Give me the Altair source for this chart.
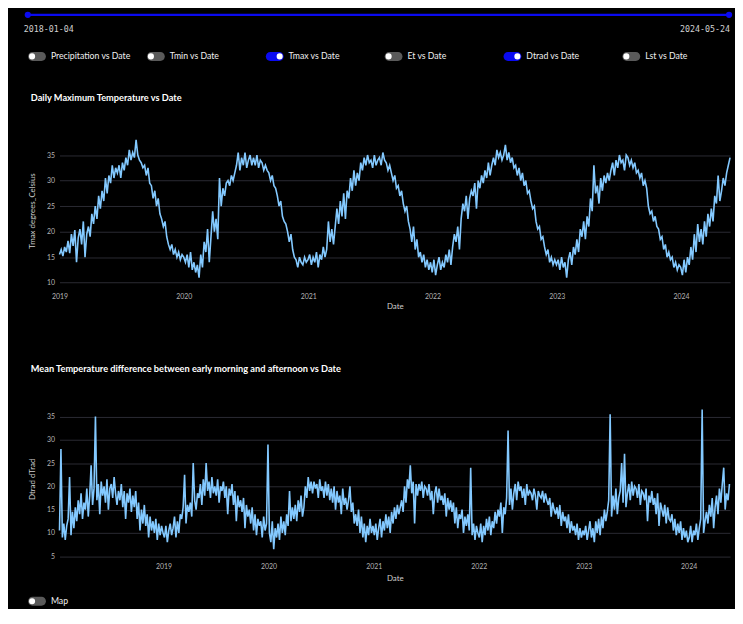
import altair as alt
import pandas as pd

# ---------------- data ----------------
slider_dates = ["2018-01-04", "2024-05-24"]
toggle_labels = ["Precipitation vs Date", "Tmin vs Date", "Tmax vs Date",
                 "Et vs Date", "Dtrad vs Date", "Lst vs Date"]
toggle_on = [False, False, True, False, True, False]
map_label = ["Map"]
map_on = [False]

title_tmax = "Daily Maximum Temperature vs Date"
title_dtrad = "Mean Temperature difference between early morning and afternoon vs Date"

# Tmax, one reading every 5 days from 2019-01-01
tmax_start = "2019-01-01"
tmax_2019 = [15.5, 16.5, 15.2, 17.0, 16.0, 18.2, 15.8, 19.5, 17.2, 20.3, 14.0, 18.8,
             20.5, 17.5, 22.0, 15.0, 19.5, 21.0, 19.0, 23.5, 21.5, 25.0, 22.5, 27.0,
             24.5, 28.0, 26.0, 30.5, 27.5, 31.0, 29.5, 33.0, 30.5, 32.5, 31.5, 33.0,
             30.5, 33.5, 32.0, 34.5, 33.0, 36.0, 34.0, 35.5, 34.5, 38.0, 35.0, 34.0,
             33.5, 32.5, 33.0, 31.0, 32.5, 29.5, 29.0, 26.5, 28.0, 25.0, 26.5, 23.5,
             22.5, 21.0, 22.0, 19.0, 17.5, 16.5, 17.5, 15.5, 16.5, 15.0, 16.0, 14.5, 15.5]
tmax_2020 = [15.0, 14.0, 15.5, 13.0, 16.0, 12.5, 14.0, 12.0, 13.5, 11.0, 15.5, 13.0,
             18.0, 16.0, 20.5, 14.0, 19.0, 24.0, 20.0, 22.5, 18.5, 30.5, 25.0, 28.5,
             27.0, 29.5, 30.0, 29.0, 31.0, 30.0, 31.5, 33.0, 35.5, 32.0, 34.5, 33.0,
             35.5, 32.5, 34.0, 35.0, 33.0, 34.5, 33.0, 35.0, 32.5, 34.0, 33.5, 32.0,
             33.0, 32.0, 31.5, 30.0, 31.0, 29.0, 28.5, 27.0, 25.0, 26.0, 23.0, 22.0,
             21.5, 20.0, 18.0, 19.5, 16.5, 15.0, 14.5, 13.0, 15.0, 14.0, 13.5, 15.0, 14.0]
tmax_2021 = [14.5, 15.5, 13.5, 15.0, 14.0, 16.0, 13.0, 15.5, 14.5, 17.0, 15.0, 16.5,
             22.0, 18.0, 20.5, 17.5, 21.0, 24.5, 21.5, 26.0, 23.0, 27.5, 22.5, 28.0,
             26.5, 30.5, 28.0, 32.0, 29.0, 31.5, 30.0, 33.5, 32.0, 34.5, 33.0, 35.0,
             33.5, 34.0, 32.5, 35.0, 33.0, 34.0, 34.5, 33.0, 35.5, 34.0, 33.5, 32.0,
             33.0, 31.5, 30.0, 31.0, 28.5, 29.0, 27.0, 28.0, 25.5, 24.0, 25.0, 22.0,
             20.5, 18.0, 21.0, 16.5, 18.5, 15.0, 16.0, 14.0, 15.5, 13.0, 14.5, 12.5, 14.0]
tmax_2022 = [12.0, 14.5, 11.5, 13.5, 15.0, 12.5, 14.0, 13.0, 15.5, 14.0, 16.5, 13.5,
             17.0, 19.5, 18.0, 21.0, 16.5, 22.5, 25.5, 24.0, 27.0, 22.5, 26.5, 28.0,
             27.0, 29.5, 24.5, 30.0, 28.5, 31.0, 29.5, 32.0, 30.5, 33.5, 31.0, 33.0,
             34.5, 33.0, 36.0, 34.5, 35.5, 34.0, 35.0, 37.0, 34.0, 35.5, 33.5, 34.5,
             32.5, 33.0, 31.0, 32.5, 30.0, 31.5, 29.0, 30.0, 27.5, 28.0, 26.0, 24.5,
             25.0, 22.0, 20.5, 21.0, 18.5, 19.0, 17.0, 15.5, 16.5, 14.0, 15.0, 13.5, 14.5]
tmax_2023 = [13.5, 14.5, 12.5, 15.0, 13.0, 14.0, 11.0, 14.5, 16.0, 13.5, 17.0, 15.5,
             18.5, 16.0, 20.5, 19.0, 22.0, 18.5, 23.0, 21.0, 26.5, 24.0, 33.0, 27.5,
             29.0, 25.5, 30.5, 28.0, 31.0, 29.5, 31.5, 30.0, 32.0, 33.5, 31.0, 34.0,
             32.5, 35.0, 33.5, 34.0, 32.0, 35.0, 34.5, 33.0, 34.0, 32.5, 33.5, 31.5,
             32.0, 30.5, 31.5, 29.0, 30.0, 28.5, 25.0, 23.5, 24.0, 22.0, 23.0, 21.0,
             20.5, 18.5, 19.0, 16.5, 17.5, 15.0, 16.0, 14.5, 15.0, 13.0, 14.0, 12.5, 13.5]
tmax_2024 = [13.0, 11.5, 14.5, 12.0, 15.0, 13.5, 17.0, 14.5, 19.5, 16.0, 21.5, 18.0,
             20.5, 17.5, 22.0, 19.0, 23.5, 21.0, 24.5, 22.0, 27.0, 25.5, 31.0, 26.0,
             28.0, 30.5, 29.0, 31.5, 33.0, 34.5]

# Dtrad, one reading every 5 days from 2018-01-04
dtrad_start = "2018-01-04"
dtrad_2018 = [10.5, 28.0, 9.0, 12.0, 8.5, 11.5, 13.0, 22.0, 9.5, 14.5, 11.0, 15.5,
              12.5, 17.0, 14.0, 18.5, 13.0, 16.5, 15.0, 19.5, 13.5, 18.0, 24.5, 16.0,
              19.5, 35.0, 17.0, 20.5, 14.0, 21.0, 18.0, 20.0, 16.5, 21.5, 15.0, 19.5,
              20.5, 17.5, 22.0, 18.5, 16.0, 19.0, 17.0, 20.5, 15.5, 19.0, 13.0, 18.5,
              16.5, 19.5, 14.5, 18.0, 15.5, 19.0, 13.0, 16.5, 10.5, 15.0, 12.0, 16.0,
              11.5, 14.0, 9.0, 13.5, 10.5, 12.5, 10.0, 13.0, 8.5, 12.0, 9.5, 11.5, 10.0]
dtrad_2019 = [9.0, 11.5, 8.0, 10.5, 12.0, 9.5, 11.0, 13.5, 9.0, 12.5, 10.0, 14.0,
              13.0, 15.5, 22.5, 12.0, 16.0, 14.5, 16.5, 13.5, 25.0, 17.0, 15.0, 18.5,
              17.5, 20.5, 16.0, 21.5, 18.0, 25.0, 19.0, 21.0, 17.5, 22.0, 18.5, 20.0,
              18.0, 21.5, 16.5, 20.0, 19.0, 21.0, 17.5, 20.0, 14.0, 19.5, 18.0, 20.5,
              16.0, 19.0, 12.5, 18.0, 15.5, 17.0, 14.5, 17.5, 11.0, 16.0, 13.5, 15.0,
              12.0, 15.5, 10.5, 14.0, 9.5, 13.0, 11.5, 12.5, 9.0, 13.5, 10.5, 12.0, 29.0]
dtrad_2020 = [10.0, 8.0, 12.5, 6.5, 11.0, 9.0, 12.0, 8.5, 13.5, 10.0, 12.5, 9.5,
              14.0, 11.5, 19.0, 12.5, 15.5, 13.0, 16.0, 12.5, 17.0, 14.5, 18.0, 13.5,
              15.5, 20.0, 17.5, 22.0, 19.0, 21.0, 18.5, 21.0, 19.5, 20.5, 17.5, 21.5,
              19.0, 20.0, 17.5, 21.0, 18.0, 20.5, 17.0, 19.5, 16.5, 20.0, 15.0, 19.0,
              16.5, 18.0, 14.0, 19.5, 16.0, 17.5, 15.0, 17.0, 20.0, 14.5, 16.5, 12.0,
              14.0, 11.5, 15.0, 10.0, 13.5, 9.0, 12.0, 8.0, 11.5, 9.5, 13.0, 10.0, 11.5]
dtrad_2021 = [9.5, 12.0, 8.5, 11.0, 13.0, 9.0, 12.5, 10.5, 14.0, 11.0, 13.5, 10.0,
              14.5, 12.0, 15.5, 13.0, 16.0, 14.0, 15.5, 17.0, 14.5, 20.0, 16.5, 21.5,
              19.5, 24.5, 18.5, 21.0, 12.0, 20.5, 18.0, 20.5, 19.0, 21.0, 17.5, 20.0,
              19.5, 18.0, 20.5, 17.0, 19.0, 14.0, 18.5, 20.0, 16.5, 19.5, 17.0, 18.0,
              16.0, 18.5, 13.5, 17.5, 15.0, 17.0, 14.5, 16.5, 12.0, 15.5, 11.0, 14.0,
              13.0, 15.0, 10.0, 13.5, 11.5, 14.0, 10.5, 24.0, 9.5, 12.0, 8.5, 11.5, 10.0]
dtrad_2022 = [9.0, 12.0, 8.0, 11.5, 9.5, 13.0, 10.5, 13.5, 9.5, 12.5, 11.0, 14.5,
              12.0, 15.0, 13.5, 16.5, 10.0, 15.5, 14.0, 17.5, 32.0, 16.0, 19.5, 15.0,
              18.5, 20.5, 17.0, 21.0, 19.0, 20.0, 17.5, 19.5, 16.0, 20.5, 18.0, 19.0,
              18.5, 17.0, 19.5, 18.0, 15.0, 19.0, 18.0, 17.5, 19.0, 16.5, 18.5, 17.0,
              16.0, 17.5, 13.5, 16.5, 15.0, 14.0, 15.5, 13.0, 16.0, 11.5, 14.5, 12.5,
              13.5, 11.0, 14.0, 10.0, 12.5, 10.5, 11.5, 9.5, 12.0, 8.5, 11.0, 9.0, 10.5]
dtrad_2023 = [9.5, 11.5, 8.5, 10.5, 12.5, 9.0, 11.0, 8.0, 12.5, 10.0, 13.0, 9.5,
              13.5, 11.0, 15.0, 12.5, 14.5, 17.0, 35.5, 13.5, 18.0, 15.0, 19.5, 14.0,
              17.5, 19.0, 25.0, 16.5, 27.0, 15.5, 18.5, 20.5, 17.0, 21.0, 18.0, 20.0,
              19.5, 17.5, 20.5, 16.0, 19.0, 18.5, 17.0, 19.5, 12.5, 18.0, 16.5, 19.0,
              16.0, 17.5, 14.0, 18.5, 11.5, 16.5, 15.0, 13.5, 16.0, 12.0, 15.5, 13.0,
              12.5, 14.0, 10.5, 13.0, 9.5, 12.0, 10.0, 12.5, 8.5, 11.0, 9.0, 10.5, 8.0]
dtrad_2024 = [9.0, 11.5, 8.0, 10.5, 9.5, 12.0, 8.5, 11.0, 13.0, 36.5, 10.0, 12.5,
              14.5, 12.0, 16.0, 13.5, 17.5, 11.0, 15.5, 18.0, 14.0, 19.5, 16.5, 20.5,
              24.0, 15.0, 18.5, 17.0, 20.5]

tmax_values = tmax_2019 + tmax_2020 + tmax_2021 + tmax_2022 + tmax_2023 + tmax_2024
dtrad_values = dtrad_2018 + dtrad_2019 + dtrad_2020 + dtrad_2021 + dtrad_2022 + dtrad_2023 + dtrad_2024

tmax_df = pd.DataFrame({"Date": pd.date_range(tmax_start, periods=len(tmax_values), freq="5D"),
                        "Tmax": tmax_values})
dtrad_df = pd.DataFrame({"Date": pd.date_range(dtrad_start, periods=len(dtrad_values), freq="5D"),
                         "Dtrad": dtrad_values})
toggle_df = pd.DataFrame({"idx": list(range(len(toggle_labels))), "label": toggle_labels, "on": toggle_on})
map_df = pd.DataFrame({"idx": [0], "label": map_label, "on": map_on})
slider_df = pd.DataFrame({"start": [slider_dates[0]], "end": [slider_dates[1]]})
slider_pts = pd.DataFrame({"d": slider_dates, "label": slider_dates})

# ---------------- styling ----------------
BG = "#000000"
LINE = "#83c9ff"
BLUE = "#0a0af0"
FONT = "Lato"
W = 677
HA = 149
HB = 157
PILL = "M-0.5,-0.5 L0.5,-0.5 A0.5,0.5 0 0 1 0.5,0.5 L-0.5,0.5 A0.5,0.5 0 0 1 -0.5,-0.5 Z"

def dt(s):
    y, m, d = [int(v) for v in s.split("-")]
    return alt.DateTime(year=y, month=m, date=d)

year_ticks = [alt.DateTime(year=y, month=1, date=1) for y in range(2019, 2025)]
toggle_scale = alt.Scale(domain=[0, 5], range=[-8.7, 591.3])
slider_scale = alt.Scale(domain=[dt(slider_dates[0]), dt(slider_dates[1])], range=[-32, 676])


def toggles(df, ypix):
    base = alt.Chart(df)
    xenc = alt.X("idx:Q", scale=toggle_scale, axis=None)
    track = base.mark_point(shape=PILL, size=324, filled=True, opacity=1, strokeWidth=0,
                            xOffset=-14).encode(
        x=xenc, y=alt.value(ypix),
        fill=alt.condition("datum.on", alt.value(BLUE), alt.value("#5a5a5a")))
    knob_on = base.transform_filter("datum.on").mark_point(
        shape="circle", size=38, filled=True, opacity=1, color="#ffffff", xOffset=-9
    ).encode(x=xenc, y=alt.value(ypix))
    knob_off = base.transform_filter("!datum.on").mark_point(
        shape="circle", size=38, filled=True, opacity=1, color="#ffffff", xOffset=-19
    ).encode(x=xenc, y=alt.value(ypix))
    text = base.mark_text(align="left", baseline="middle", font=FONT, fontSize=8.8,
                          color="#f0f0f0").encode(x=xenc, y=alt.value(ypix), text="label:N")
    return [track, knob_on, knob_off, text]


# ---------------- chart A: Tmax ----------------
lineA = alt.Chart(tmax_df).mark_line(color=LINE, strokeWidth=1.6).encode(
    x=alt.X("Date:T", title="Date",
            scale=alt.Scale(domain=[dt("2019-01-01"), dt("2024-05-24")]),
            axis=alt.Axis(values=year_ticks, format="%Y", grid=False, labelFlush=False,
                          labelPadding=8, titlePadding=4)),
    y=alt.Y("Tmax:Q", title="Tmax degrees_Celsius",
            scale=alt.Scale(domain=[9.7, 38.6], nice=False, zero=False),
            axis=alt.Axis(values=[10, 15, 20, 25, 30, 35], labelPadding=5, titlePadding=10)),
)
titleA = alt.Chart(pd.DataFrame({"t": [title_tmax]})).mark_text(
    align="left", baseline="middle", font=FONT, fontSize=9.3, fontWeight="bold", color="#ffffff"
).encode(x=alt.value(-29), y=alt.value(-39), text="t:N")

slider_line = alt.Chart(slider_df).mark_rule(color=BLUE, strokeWidth=2.2).encode(
    x=alt.X("start:T", scale=slider_scale, axis=None), x2="end:T", y=alt.value(-123))
slider_handles = alt.Chart(slider_pts).mark_point(
    shape="circle", size=40, filled=True, opacity=1, color=BLUE
).encode(x=alt.X("d:T", scale=slider_scale, axis=None), y=alt.value(-123))
slider_left = alt.Chart(slider_pts.iloc[[0]]).mark_text(
    align="left", baseline="middle", font="DejaVu Sans Mono", fontSize=8.4, color="#d0d0d0", dx=-4
).encode(x=alt.X("d:T", scale=slider_scale, axis=None), y=alt.value(-109), text="label:N")
slider_right = alt.Chart(slider_pts.iloc[[1]]).mark_text(
    align="right", baseline="middle", font="DejaVu Sans Mono", fontSize=8.4, color="#d0d0d0", dx=1
).encode(x=alt.X("d:T", scale=slider_scale, axis=None), y=alt.value(-109), text="label:N")

chartA = alt.layer(lineA, titleA, slider_line, slider_handles, slider_left, slider_right,
                   *toggles(toggle_df, -81)).resolve_scale(x="independent").properties(
    width=W, height=HA)

# ---------------- chart B: Dtrad ----------------
lineB = alt.Chart(dtrad_df).mark_line(color=LINE, strokeWidth=1.6).encode(
    x=alt.X("Date:T", title="Date",
            scale=alt.Scale(domain=[dt("2018-01-04"), dt("2024-05-24")]),
            axis=alt.Axis(values=year_ticks, format="%Y", grid=False, labelFlush=False,
                          labelPadding=6, titlePadding=5)),
    y=alt.Y("Dtrad:Q", title="Dtrad dTrad",
            scale=alt.Scale(domain=[4.9, 38.3], nice=False, zero=False),
            axis=alt.Axis(values=[5, 10, 15, 20, 25, 30, 35], labelPadding=5, titlePadding=10)),
)
titleB = alt.Chart(pd.DataFrame({"t": [title_dtrad]})).mark_text(
    align="left", baseline="middle", font=FONT, fontSize=9.3, fontWeight="bold", color="#ffffff"
).encode(x=alt.value(-29), y=alt.value(-32.5), text="t:N")

chartB = alt.layer(lineB, titleB, *toggles(map_df, HB + 45)).resolve_scale(
    x="independent").properties(width=W, height=HB)

chart = alt.vconcat(chartA, chartB, spacing=54).properties(
    background=BG, padding={"left": 16, "top": 0, "right": 1, "bottom": 0}
).configure_view(strokeWidth=0).configure_axis(
    domain=False, ticks=False, gridColor="#2b2b33", gridWidth=1,
    labelColor="#b4b4b4", labelFont=FONT, labelFontSize=7,
    titleColor="#cfcfcf", titleFont=FONT, titleFontSize=8, titleFontWeight="normal",
)

chart.save("out.html", embed_options={"renderer": "svg", "actions": False})
